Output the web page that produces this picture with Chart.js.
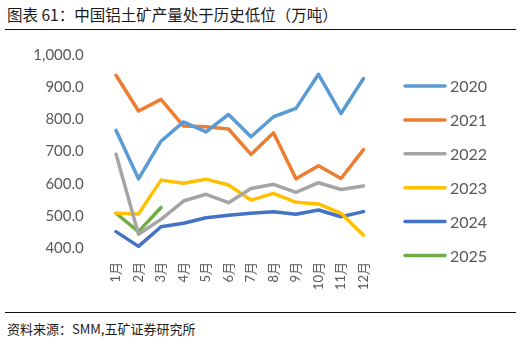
<!DOCTYPE html>
<html>
<head>
<meta charset="utf-8">
<script src="https://cdn.jsdelivr.net/npm/chart.js@4/dist/chart.umd.min.js"></script>
<style>
  html, body { margin: 0; padding: 0; background: #fff; }
  body { width: 522px; height: 341px; position: relative; overflow: hidden; }
  .title {
    position: absolute; left: 7px; top: 4px;
    font: 15.5px "Noto Sans CJK SC", sans-serif; color: #1a1a1a; line-height: 20px;
  }
  .rule { position: absolute; left: 5px; width: 511px; height: 0; border-top: 1.5px solid #111; }
  .source {
    position: absolute; left: 7px; top: 320px;
    font: 13px "Noto Sans CJK SC", sans-serif; color: #1a1a1a; line-height: 18px;
  }
  #wrap { position: absolute; left: 0; top: 25px; width: 522px; height: 285px; }
</style>
</head>
<body>
<div class="title">图表 61：中国铝土矿产量处于历史低位（万吨）</div>
<div class="rule" style="top:29px"></div>
<div id="wrap"><canvas id="c"></canvas></div>
<div class="rule" style="top:312px"></div>
<div class="source">资料来源：SMM,五矿证券研究所</div>
<script>
// Monthly bauxite output in China, 10k tonnes
const months = ['1月','2月','3月','4月','5月','6月','7月','8月','9月','10月','11月','12月'];
const years = ['2020','2021','2022','2023','2024','2025'];
const y2020 = [766, 615, 732, 792, 761, 815, 746, 808, 834, 940, 818, 927];
const y2021 = [937, 826, 862, 779, 777, 770, 691, 758, 615, 656, 616, 706];
const y2022 = [692, 443, 489, 546, 567, 541, 585, 598, 573, 603, 582, 593];
const y2023 = [508, 506, 611, 601, 614, 596, 549, 570, 542, 537, 508, 440];
const y2024 = [451, 405, 466, 477, 494, 502, 508, 513, 505, 518, 497, 513];
const y2025 = [508, 451, 526];
const yTicks = [400, 500, 600, 700, 800, 900, 1000];
const colors = ['#5B9BD5', '#ED7D31', '#A5A5A5', '#FFC000', '#4472C4', '#70AD47'];

const series = [y2020, y2021, y2022, y2023, y2024, y2025];
const datasets = series.map((vals, i) => ({
  label: years[i],
  data: vals,
  borderColor: colors[i],
  backgroundColor: colors[i],
  borderWidth: 3.5,
  borderCapStyle: 'round',
  borderJoinStyle: 'round',
  pointRadius: 0,
  tension: 0,
  fill: false
}));

// Legend drawn on the right, one line sample and label per year
const sideLegend = {
  id: 'sideLegend',
  afterDraw(chart) {
    const ctx = chart.ctx;
    const x0 = 405, x1 = 445, tx = 450, yStart = 61, gap = 33.9;
    ctx.save();
    chart.data.datasets.forEach((ds, i) => {
      const y = yStart + i * gap;
      ctx.strokeStyle = ds.borderColor;
      ctx.lineWidth = 3.5;
      ctx.lineCap = 'round';
      ctx.beginPath();
      ctx.moveTo(x0, y);
      ctx.lineTo(x1, y);
      ctx.stroke();
      ctx.fillStyle = '#595959';
      ctx.font = '16px Lato, "Noto Sans", sans-serif';
      ctx.textBaseline = 'middle';
      ctx.textAlign = 'left';
      ctx.fillText(ds.label, tx, y + 1);
    });
    ctx.restore();
  }
};

new Chart(document.getElementById('c'), {
  type: 'line',
  data: { labels: months, datasets },
  plugins: [sideLegend],
  options: {
    responsive: true,
    maintainAspectRatio: false,
    animation: false,
    layout: { padding: { top: 10, right: 147.25, bottom: 0, left: 0 } },
    plugins: { legend: { display: false }, tooltip: { enabled: false } },
    scales: {
      x: {
        offset: true,
        grid: { display: false, drawTicks: false },
        border: { display: false },
        ticks: {
          color: '#595959',
          font: { size: 13, family: 'Lato, "Noto Sans CJK SC", sans-serif' },
          minRotation: 90, maxRotation: 90,
          padding: 14,
          autoSkip: false
        },
        afterFit(scale) { scale.height = 62; }
      },
      y: {
        min: yTicks[0],
        max: yTicks[yTicks.length - 1],
        afterBuildTicks(scale) { scale.ticks = yTicks.map(v => ({ value: v })); },
        grid: { display: false, drawTicks: false },
        border: { display: false },
        ticks: {
          color: '#595959',
          font: { size: 15, family: 'Lato, "Noto Sans", sans-serif' },
          padding: 21,
          callback: v => v.toLocaleString('en-US', { minimumFractionDigits: 1, maximumFractionDigits: 1 })
        },
        afterFit(scale) { scale.width = 104.75; }
      }
    }
  }
});
</script>
</body>
</html>
